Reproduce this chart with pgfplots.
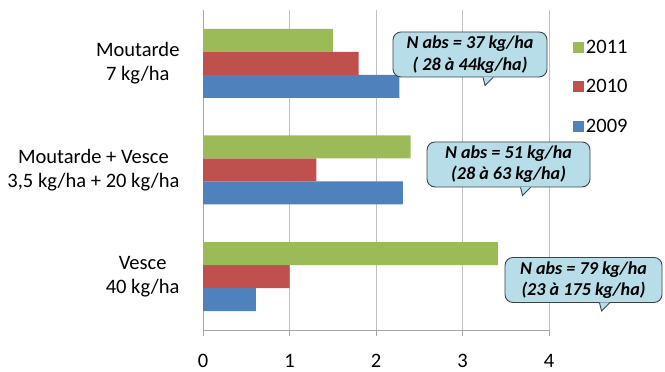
\documentclass[border=0pt]{standalone}
\usepackage{pgfplots}
\pgfplotsset{compat=1.18}
\usepackage{fontspec}
\setmainfont{Carlito}

\definecolor{c2009}{HTML}{4F81BD}
\definecolor{c2010}{HTML}{C0504D}
\definecolor{c2011}{HTML}{9BBB59}
\definecolor{calloutfill}{HTML}{B7DEE8}
\definecolor{calloutdraw}{HTML}{3A444C}
\definecolor{gridgray}{HTML}{BFBFBF}
\definecolor{axisgray}{HTML}{A6A6A6}

% N uptake per cover crop, one table per year (y: 0 = Vesce, 1 = mix, 2 = Moutarde)
\pgfplotstableread{
y x
0 0.61
1 2.31
2 2.27
}\yearA
\pgfplotstableread{
y x
0 1.00
1 1.31
2 1.80
}\yearB
\pgfplotstableread{
y x
0 3.41
1 2.40
2 1.50
}\yearC

\tikzset{
  callout/.style={draw=calloutdraw, fill=calloutfill, rounded corners=8bp,
    line width=0.9bp, align=center, inner sep=0pt, minimum height=45bp,
    font=\fontsize{18.2}{21.5}\selectfont\bfseries\itshape},
}
% small pointer under a callout box
\newcommand\callouttail[2]{%
  \fill[calloutfill] ([xshift=#2bp,yshift=0.6bp]#1.south) -- ([xshift=#2bp+2bp,yshift=-8bp]#1.south)
     -- ([xshift=#2bp+10bp,yshift=0.6bp]#1.south) -- cycle;
  \draw[calloutdraw, line width=0.9bp] ([xshift=#2bp]#1.south) -- ([xshift=#2bp+2bp,yshift=-8bp]#1.south)
     -- ([xshift=#2bp+10bp]#1.south);
}

\begin{document}
\begin{tikzpicture}
\useasboundingbox (0,0) rectangle (665bp,372bp);
\begin{axis}[
  at={(203bp,42bp)}, anchor=south west,
  scale only axis, width=346bp, height=320bp,
  xmin=0, xmax=4, ymin=-0.5, ymax=2.5,
  clip=false,
  axis x line*=bottom, axis y line*=left,
  axis line style={axisgray, line width=0.8bp},
  xtick={0,1,2,3,4},
  xmajorgrids, major grid style={gridgray, line width=0.8bp},
  x tick style={axisgray, line width=0.8bp},
  xtick align=outside, major tick length=6bp,
  ytick={0,1,2},
  yticklabels={{Vesce\\40 kg/ha},{Moutarde + Vesce\\3,5 kg/ha + 20 kg/ha},{Moutarde\\7 kg/ha}},
  y tick style={draw=none},
  minor ytick={-0.5,0.5,1.5,2.5},
  minor y tick style={axisgray, line width=0.8bp},
  minor tick length=7bp, ytick align=outside,
  yticklabel style={align=center, font=\fontsize{20.6}{24}\selectfont, xshift=-14bp},
  xticklabel style={font=\fontsize{20.6}{24}\selectfont, yshift=-15bp},
  /pgf/number format/assume math mode=true,
  xbar, bar width=23bp,
  reverse legend,
  legend style={at={(1.06,0.92)}, anchor=north west, draw=none, fill=none,
    font=\fontsize{20.6}{24}\selectfont, row sep=21bp,
    /tikz/every even column/.append style={column sep=0pt}},
  legend cell align=left,
  legend image code/.code={\path[#1] (0bp,-5.5bp) rectangle (11bp,5.5bp);},
]
\addplot[fill=c2009, draw=none, bar shift=-23bp] table[x=x, y=y] {\yearA};
\addplot[fill=c2010, draw=none, bar shift=0bp] table[x=x, y=y] {\yearB};
\addplot[fill=c2011, draw=none, bar shift=23bp] table[x=x, y=y] {\yearC};
\legend{2009,2010,2011}

\node[callout, minimum width=154bp] (c1) at (axis cs:3.087,2.083) {N abs = 37 kg/ha\\( 28 à 44kg/ha)};
\callouttail{c1}{13}
\node[callout, minimum width=163bp] (c2) at (axis cs:3.532,1.052) {N abs = 51 kg/ha\\(28 à 63 kg/ha)};
\callouttail{c2}{12}
\node[callout, minimum width=157bp] (c3) at (axis cs:4.399,-0.031) {N abs = 79 kg/ha\\(23 à 175 kg/ha)};
\callouttail{c3}{16}
\end{axis}
\end{tikzpicture}
\end{document}
